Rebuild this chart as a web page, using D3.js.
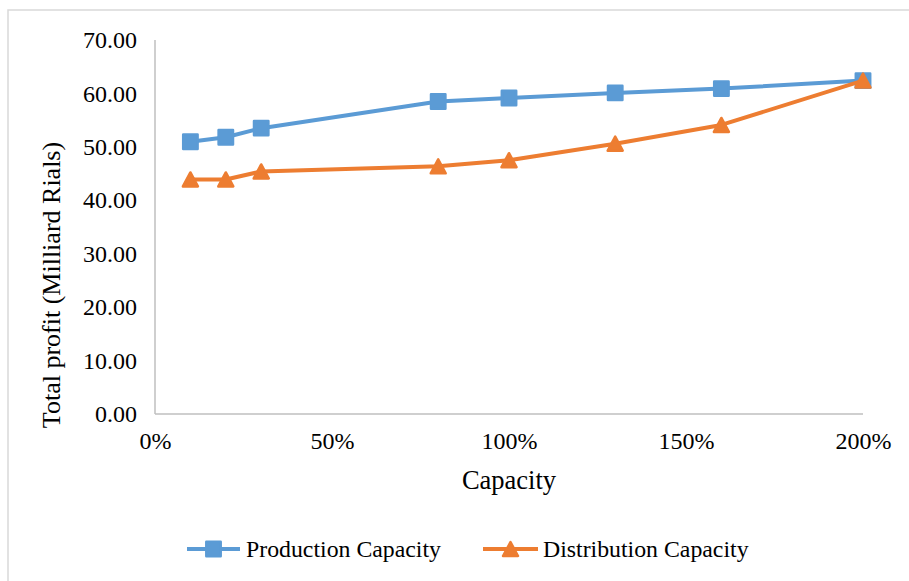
<!DOCTYPE html>
<html>
<head>
<meta charset="utf-8">
<script src="https://cdn.jsdelivr.net/npm/d3@7/dist/d3.min.js"></script>
<style>
  html, body { margin: 0; padding: 0; background: #ffffff; }
  svg { display: block; }
  text { font-family: "Liberation Serif", "Times New Roman", serif; fill: #000; }
</style>
</head>
<body>
<svg id="chart" width="909" height="581"></svg>
<script>
// Capacity levels (fraction of base capacity)
const capacities = [0.10, 0.20, 0.30, 0.80, 1.00, 1.30, 1.60, 2.00];
// Total profit, milliard rials
const productionProfit   = [50.95, 51.8, 53.5, 58.5, 59.15, 60.1, 60.9, 62.4];
const distributionProfit = [43.9, 43.9, 45.4, 46.35, 47.5, 50.6, 54.1, 62.4];
const seriesNames = ["Production Capacity", "Distribution Capacity"];
const seriesColors = ["#5B9BD5", "#ED7D31"];
const xTicks = [0, 0.5, 1.0, 1.5, 2.0];
const yTicks = [0, 10, 20, 30, 40, 50, 60, 70];

const svg = d3.select("#chart");

// outer chart frame
svg.append("rect")
  .attr("x", 8).attr("y", 10).attr("width", 940).attr("height", 620)
  .attr("fill", "none").attr("stroke", "#d9d9d9").attr("stroke-width", 1.5);

const x = d3.scaleLinear().domain([0, 2]).range([155, 863]);
const y = d3.scaleLinear().domain([0, 70]).range([414, 40]);

// axes
const xAxis = svg.append("g").attr("transform", "translate(0,414)")
  .call(d3.axisBottom(x).tickValues(xTicks).tickFormat(d3.format(".0%")).tickSize(0).tickPadding(18));
const yAxis = svg.append("g").attr("transform", "translate(155,0)")
  .call(d3.axisLeft(y).tickValues(yTicks).tickFormat(d3.format(".2f")).tickSize(0).tickPadding(18));

[xAxis, yAxis].forEach(g => {
  g.select(".domain").attr("stroke", "#bfbfbf").attr("stroke-width", 1.5);
  g.selectAll("text").style("font-family", "'Liberation Serif', 'Times New Roman', serif")
    .style("font-size", "24px").attr("fill", "#000");
});
xAxis.select(".domain").attr("d", "M155,0H863");
yAxis.select(".domain").attr("d", "M0,40V414");

// axis titles
svg.append("text")
  .attr("x", 509).attr("y", 489).attr("text-anchor", "middle")
  .style("font-size", "26.5px").text("Capacity");
svg.append("text")
  .attr("transform", "translate(60,285) rotate(-90)")
  .attr("text-anchor", "middle")
  .style("font-size", "26px").text("Total profit (Milliard Rials)");

// marker shapes
function squarePath(s) {
  return `M${-s},${-s}H${s}V${s}H${-s}Z`;
}
function trianglePath(s) {
  return `M0,${-s}L${s + 0.5},${s}L${-s - 0.5},${s}Z`;
}
const markers = [squarePath(7.2), trianglePath(7)];

const seriesData = [productionProfit, distributionProfit];
const line = d3.line().x(d => x(d[0])).y(d => y(d[1]));

seriesData.forEach((vals, i) => {
  const pts = capacities.map((c, j) => [c, vals[j]]);
  svg.append("path")
    .datum(pts)
    .attr("d", line)
    .attr("fill", "none")
    .attr("stroke", seriesColors[i])
    .attr("stroke-width", 4)
    .attr("stroke-linejoin", "round");
  svg.selectAll(null).data(pts).enter().append("path")
    .attr("transform", d => `translate(${x(d[0])},${y(d[1])})`)
    .attr("d", markers[i])
    .attr("fill", seriesColors[i])
    .attr("stroke", seriesColors[i])
    .attr("stroke-width", 2.5)
    .attr("stroke-linejoin", "round");
});

// legend
const legendItems = [
  { x0: 187, x1: 240, tx: 246 },
  { x0: 483, x1: 538, tx: 543 }
];
legendItems.forEach((it, i) => {
  const g = svg.append("g");
  g.append("line")
    .attr("x1", it.x0).attr("x2", it.x1).attr("y1", 549).attr("y2", 549)
    .attr("stroke", seriesColors[i]).attr("stroke-width", 4);
  g.append("path")
    .attr("transform", `translate(${(it.x0 + it.x1) / 2},549)`)
    .attr("d", markers[i])
    .attr("fill", seriesColors[i]).attr("stroke", seriesColors[i])
    .attr("stroke-width", 2.5).attr("stroke-linejoin", "round");
  g.append("text")
    .attr("x", it.tx).attr("y", 557)
    .style("font-size", "23.8px").text(seriesNames[i]);
});
</script>
</body>
</html>
